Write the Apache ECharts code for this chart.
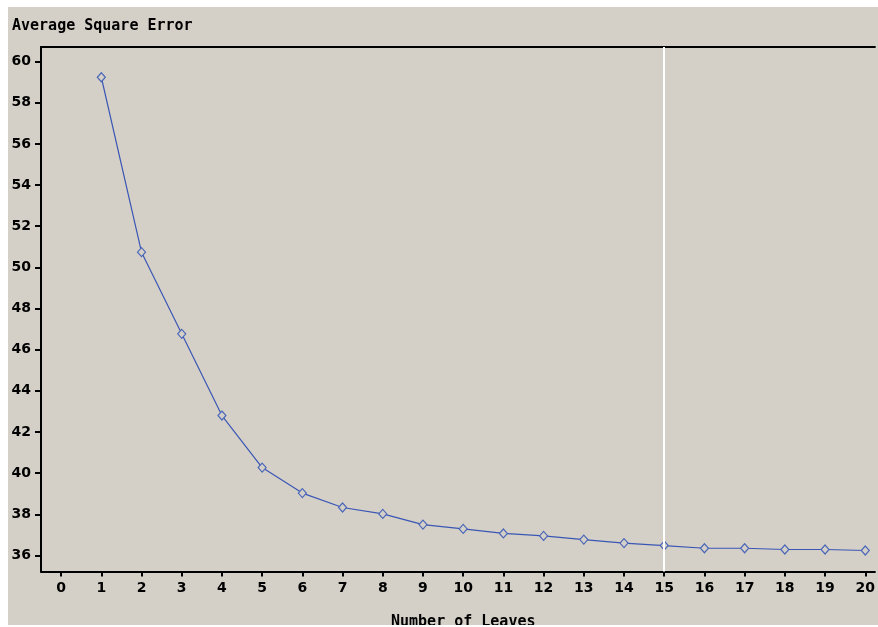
<!DOCTYPE html>
<html>
<head>
<meta charset="utf-8">
<script src="https://cdn.jsdelivr.net/npm/echarts@6/dist/echarts.min.js"></script>
<style>
html,body{margin:0;padding:0;background:#fff;}
#main{position:absolute;left:8px;top:7px;width:870px;height:618px;background:#D4D0C8;}
</style>
</head>
<body>
<div id="main"></div>
<script>
// number of leaves and the average square error
var leaves = [1,2,3,4,5,6,7,8,9,10,11,12,13,14,15,16,17,18,19,20];
var ase = [59.24,50.74,46.77,42.8,40.27,39.03,38.33,38.02,37.5,37.29,37.07,36.95,36.77,36.6,36.48,36.35,36.35,36.29,36.29,36.24];
var selectedLeaves = 15;

var chart = echarts.init(document.getElementById('main'));

var points = [];
for (var i = 0; i < leaves.length; i++) {
	points.push([leaves[i], ase[i]]);
}

var tickFont = {color:'#000', fontFamily:'DejaVu Sans', fontWeight:'bold', fontSize:14};
var nameFont = {color:'#000', fontFamily:'DejaVu Sans Mono', fontWeight:'bold', fontSize:15};

chart.setOption({
	animation:false,
	title:[{
		text:'Average Square Error',
		left:-1, top:7,
		textStyle:nameFont
	}, {
		// x axis title, cut by the panel edge like the original
		text:'Number of Leaves',
		left:378, top:603,
		textStyle:nameFont
	}],
	grid:{
		left:33, top:40, bottom:53.5, right:0
	},
	xAxis:[{
		type:'value', min:-0.5, max:20.24, splitNumber:21,
		splitLine:{show:false},
		axisLine:{show:true, onZero:false, lineStyle:{color:'#000', width:2}},
		axisTick:{show:true, length:5, lineStyle:{color:'#000', width:2}},
		axisLabel:Object.assign({margin:10, showMinLabel:false, showMaxLabel:false}, tickFont)
	}, {
		// top frame line
		type:'value', position:'top', min:-0.5, max:20.24,
		splitLine:{show:false}, axisTick:{show:false}, axisLabel:{show:false},
		axisLine:{show:true, lineStyle:{color:'#000', width:2}}
	}],
	yAxis:{
		type:'value', min:35.22, max:60.71, splitNumber:13,
		splitLine:{show:false},
		axisLine:{show:true, onZero:false, lineStyle:{color:'#000', width:2}},
		axisTick:{show:true, length:6, lineStyle:{color:'#000', width:2}},
		axisLabel:Object.assign({margin:10, showMinLabel:false, showMaxLabel:false}, tickFont)
	},
	series:[{
		type:'line',
		data:points,
		symbol:'diamond',
		symbolSize:[8,9],
		showAllSymbol:true,
		lineStyle:{color:'#3A56B4', width:1.2},
		itemStyle:{color:'#D4D0C8', borderColor:'#4A66B8', borderWidth:1.2},
		markLine:{
			silent:true,
			symbol:['none','none'],
			label:{show:false},
			lineStyle:{color:'#fff', width:2, type:'solid'},
			data:[{xAxis:selectedLeaves}]
		},
		z:3
	}]
});
</script>
</body>
</html>
